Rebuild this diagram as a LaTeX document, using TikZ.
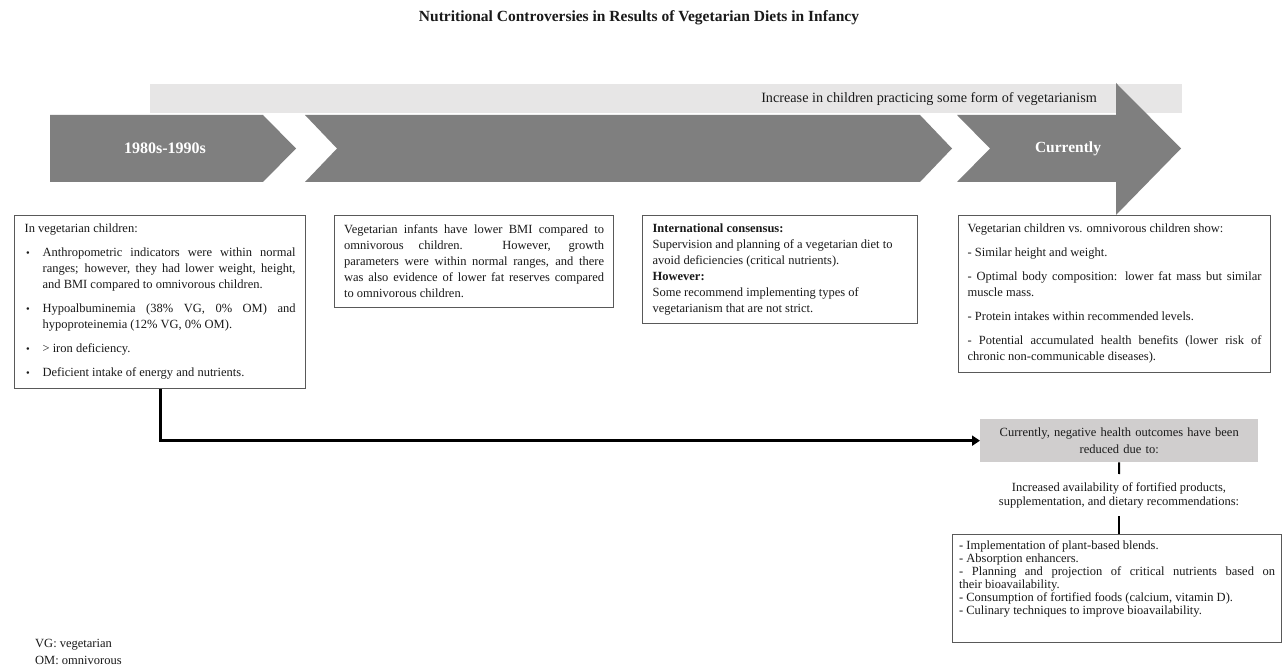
\documentclass[tikz,border=0pt]{standalone}
\usepackage{fontspec}
\setmainfont{Liberation Serif}
\usetikzlibrary{arrows.meta}
\definecolor{arrowgray}{HTML}{7F7F7F}
\definecolor{bandgray}{HTML}{E7E6E6}
\definecolor{boxgray}{HTML}{D0CECE}
\definecolor{bordergray}{HTML}{595959}
\definecolor{txt}{HTML}{1A1A1A}
% width, height, first baseline, baselineskip, parskip, content
\newcommand{\boxpar}[6]{\parbox[c][#2][t]{#1}{\fontsize{12.5}{#4}\selectfont\setlength{\parskip}{#5}\rule{0pt}{#3}\ignorespaces#6}}
\newcommand{\bul}{\hangindent=18pt\hangafter=1\noindent\makebox[18pt][l]{\hspace{1.5pt}{\fontsize{10.5}{10}\selectfont\textbullet}}}
\tikzset{
  tbox/.style={draw=bordergray, line width=1.2pt, fill=white, inner ysep=0pt, anchor=north west, text=txt},
  chev/.style={fill=arrowgray},
  chevlabel/.style={text=white, font=\fontsize{16}{18}\selectfont\bfseries, inner sep=0pt},
  mainconn/.style={line width=3pt, -{Triangle[length=8pt,width=10pt]}},
  thinconn/.style={line width=2pt},
  bodyfont/.style={font=\fontsize{12.5}{16}\selectfont, text=txt}
}
\begin{document}
\begin{tikzpicture}[x=1pt,y=-1pt]
\useasboundingbox (0,0) rectangle (1283,668);
\fill[white] (0,0) rectangle (1283,668);

% title
\node[font=\fontsize{15.5}{17}\selectfont\bfseries, text=txt] (title) at (639,18) {Nutritional Controversies in Results of Vegetarian Diets in Infancy};

% band
\fill[bandgray] (150,84) rectangle (1182,113);
\node[anchor=base east, font=\fontsize{14.2}{16}\selectfont, text=txt, inner sep=0pt] (bandtxt) at (1097,103) {Increase in children practicing some form of vegetarianism};

% timeline shapes
\fill[chev] (50,115) -- (263,115) -- (296,148.5) -- (263,182) -- (50,182) -- cycle;
\fill[chev] (305,115) -- (920,115) -- (952,148.5) -- (920,182) -- (305,182) -- (337,148.5) -- cycle;
\fill[chev] (957,115) -- (1116,115) -- (1116,83) -- (1181,148.5) -- (1116,215) -- (1116,182) -- (957,182) -- (990,148.5) -- cycle;
\node[chevlabel] (lab1) at (165,148.5) {1980s-1990s};
\node[chevlabel, font=\fontsize{15.5}{18}\selectfont\bfseries] (lab3) at (1068,148.5) {Currently};

% box 1
\node[tbox, inner xsep=10pt] (box1) at (14,215) {\boxpar{271pt}{173pt}{17pt}{16pt}{8pt}{%
In vegetarian children:\par
\bul Anthropometric indicators were within normal\linebreak ranges; however, they had lower weight, height,\linebreak and BMI compared to omnivorous children.\par
\bul Hypoalbuminemia (38\% VG, 0\% OM) and\linebreak hypoproteinemia (12\% VG, 0\% OM).\par
\bul > iron deficiency.\par
\bul Deficient intake of energy and nutrients.}};

% box 2
\node[tbox, inner xsep=9.5pt] (box2) at (334,215) {\boxpar{260pt}{92pt}{17.5pt}{16pt}{0pt}{%
Vegetarian infants have lower BMI compared to\linebreak omnivorous children. However, growth\linebreak parameters were within normal ranges, and there\linebreak was also evidence of lower fat reserves compared\linebreak to omnivorous children.}};

% box 3
\node[tbox, inner xsep=10pt] (box3) at (642,215) {\boxpar{255pt}{108pt}{16.5pt}{16pt}{0pt}{\raggedright
\textbf{International consensus:}\\
Supervision and planning of a vegetarian diet to\\
avoid deficiencies (critical nutrients).\\
\textbf{However:}\\
Some recommend implementing types of\\
vegetarianism that are not strict.}};

% box 4
\node[tbox, inner xsep=9pt] (box4) at (958,215) {\boxpar{294pt}{157pt}{17pt}{16pt}{8pt}{%
Vegetarian children vs. omnivorous children show:\par
- Similar height and weight.\par
- Optimal body composition: lower fat mass but similar\linebreak muscle mass.\par
- Protein intakes within recommended levels.\par
- Potential accumulated health benefits (lower risk of\linebreak chronic non-communicable diseases).}};

% grey box
\node[fill=boxgray, anchor=north west, minimum width=278pt, minimum height=43pt, inner sep=0pt, text width=270pt, align=center, font=\fontsize{12.5}{17}\selectfont, text=txt] (gray) at (980,419) {Currently, negative health outcomes have been\\reduced due to:};

% increased text
\node[anchor=north, minimum height=42pt, inner sep=0pt, align=center, font=\fontsize{12.5}{14}\selectfont, text=txt] (incr) at (1119,474) {Increased availability of fortified products,\\supplementation, and dietary recommendations:};

% box 5
\node[tbox, inner xsep=6.5pt] (box5) at (952,534) {\boxpar{316pt}{108pt}{15pt}{13pt}{0pt}{%
- Implementation of plant-based blends.\par
- Absorption enhancers.\par
- Planning and projection of critical nutrients based on\linebreak their bioavailability.\par
- Consumption of fortified foods (calcium, vitamin D).\par
- Culinary techniques to improve bioavailability.}};

% connectors
\draw[mainconn] (box1.south) |- (gray.west);
\draw[thinconn] (gray.south) -- (incr.north);
\draw[thinconn] (incr.south) -- (incr.south |- box5.north);

% legend
\node[anchor=base west, inner sep=0pt, font=\fontsize{12.5}{15}\selectfont, text=txt] (vg) at (35,647) {VG: vegetarian};
\node[anchor=base west, inner sep=0pt, font=\fontsize{12.5}{15}\selectfont, text=txt] (om) at (35,664) {OM: omnivorous};
\end{tikzpicture}
\end{document}
